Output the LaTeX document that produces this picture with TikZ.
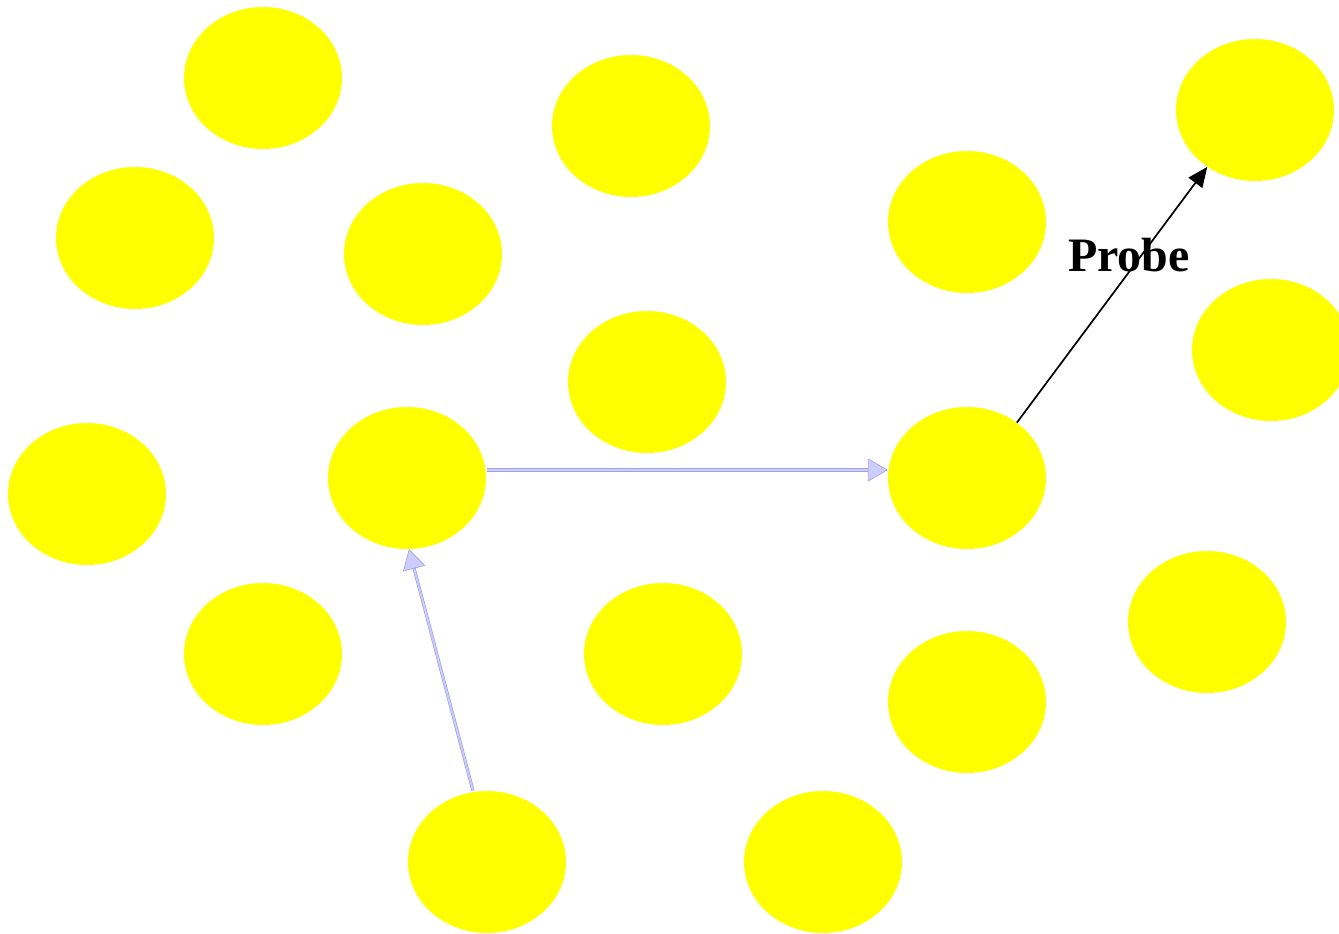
\documentclass[tikz,border=0pt]{standalone}
\usepackage{fontspec}
\setmainfont{Liberation Serif}
\usetikzlibrary{shapes.geometric,arrows.meta}
\definecolor{yel}{RGB}{255,255,0}
\definecolor{lav}{RGB}{204,204,255}
\definecolor{lavdark}{RGB}{160,160,220}
\tikzset{
  blob/.style={ellipse,fill=yel,draw=none,minimum width=158pt,minimum height=142pt,inner sep=0pt},
  lavarrow/.style={draw=lavdark,double=lav,double distance=1.8pt,line width=0.7pt,
     -{Triangle[length=20pt,width=23pt,fill=lav,line width=0.6pt]}},
  blackarrow/.style={draw=black,line width=1.7pt,-{Triangle[length=20pt,width=17pt]}}
}
\begin{document}
\begin{tikzpicture}[x=1pt,y=-1pt]
\useasboundingbox (0,0) rectangle (1339,934);
\node[blob] (n1) at (263,78) {};
\node[blob] (n2) at (631,126) {};
\node[blob] (n3) at (1255,110) {};
\node[blob] (n4) at (135,238) {};
\node[blob] (n5) at (423,254) {};
\node[blob] (n6) at (967,222) {};
\node[blob] (n7) at (1271,350) {};
\node[blob] (n8) at (647,382) {};
\node[blob] (n9) at (87,494) {};
\node[blob] (n10) at (407,478) {};
\node[blob] (n11) at (967,478) {};
\node[blob] (n12) at (263,654) {};
\node[blob] (n13) at (663,654) {};
\node[blob] (n14) at (1207,622) {};
\node[blob] (n15) at (967,702) {};
\node[blob] (n16) at (487,862) {};
\node[blob] (n17) at (823,862) {};
\draw[lavarrow] ([xshift=1pt,yshift=8pt]n10.east) -- ([yshift=8pt]n11.west);
\draw[lavarrow] ([xshift=-14pt]n16.north) -- ([xshift=2pt]n10.south);
\draw[blackarrow] (n11.48) -- (n3.230);
\node[font=\fontsize{48}{50}\selectfont\bfseries,anchor=base,inner sep=0pt] (probe) at (1129,271) {Probe};
\end{tikzpicture}
\end{document}
